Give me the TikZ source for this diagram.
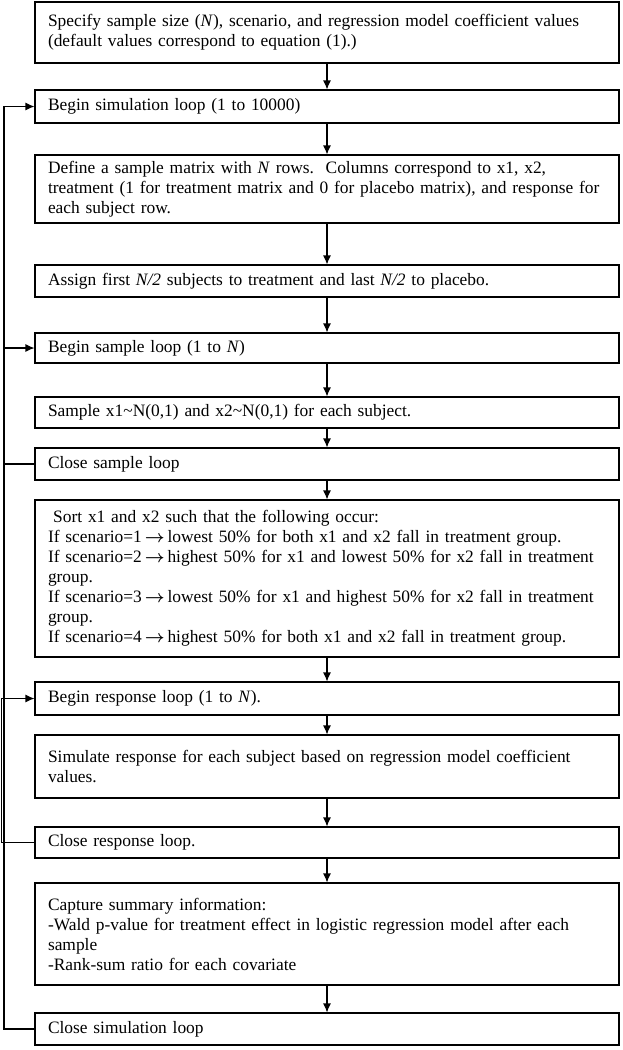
\documentclass[tikz,border=0pt]{standalone}
\usepackage{fontspec}
\setmainfont{Liberation Serif}
\usetikzlibrary{arrows.meta}
\newcommand{\thento}{\,{\boldmath$\rightarrow$}\,}
\begin{document}
\begin{tikzpicture}[x=1pt, y=-1pt, >={Latex[length=9pt,width=8pt]},
    line width=1.1pt,
    stepbox/.style={draw, rectangle, minimum width=584pt, text width=558pt,
        inner xsep=13pt, inner ysep=4pt, align=left,
        font=\fontsize{17.4}{20}\selectfont}]
    \useasboundingbox (0,0) rectangle (622,1050);
    % boxes, top to bottom
    \node[stepbox, minimum height=61pt] (spec) at (327,32.5)
        {Specify sample size (\textit{N}), scenario, and regression model coefficient values\\
         (default values correspond to equation (1).)};
    \node[stepbox, minimum height=33pt] (simbeg) at (327,106.5)
        {Begin simulation loop (1 to 10000)};
    \node[stepbox, minimum height=68pt] (define) at (327,189)
        {Define a sample matrix with \textit{N} rows.\ \ Columns correspond to x1, x2,\\
         treatment (1 for treatment matrix and 0 for placebo matrix), and response for\\
         each subject row.};
    \node[stepbox, minimum height=32pt] (assign) at (327,281)
        {Assign first \textit{N/2} subjects to treatment and last \textit{N/2} to placebo.};
    \node[stepbox, minimum height=30pt] (sampbeg) at (327,348)
        {Begin sample loop (1 to \textit{N})};
    \node[stepbox, minimum height=31pt] (sample) at (327,412.5)
        {Sample x1\textasciitilde N(0,1) and x2\textasciitilde N(0,1) for each subject.};
    \node[stepbox, minimum height=32pt] (sampend) at (327,464)
        {Close sample loop};
    \node[stepbox, minimum height=157pt] (sort) at (327,578.5)
        {\hspace*{0.3em}Sort x1 and x2 such that the following occur:\\
         If scenario=1\thento lowest 50\% for both x1 and x2 fall in treatment group.\\
         If scenario=2\thento highest 50\% for x1 and lowest 50\% for x2 fall in treatment\\
         group.\\
         If scenario=3\thento lowest 50\% for x1 and highest 50\% for x2 fall in treatment\\
         group.\\
         If scenario=4\thento highest 50\% for both x1 and x2 fall in treatment group.};
    \node[stepbox, minimum height=33pt] (respbeg) at (327,698.5)
        {Begin response loop (1 to \textit{N}).};
    \node[stepbox, minimum height=63pt] (simulate) at (327,766.5)
        {Simulate response for each subject based on regression model coefficient\\
         values.};
    \node[stepbox, minimum height=31pt] (respend) at (327,842.5)
        {Close response loop.};
    \node[stepbox, minimum height=102pt] (capture) at (327,934)
        {Capture summary information:\\
         -Wald p-value for treatment effect in logistic regression model after each\\
         sample\\
         -Rank-sum ratio for each covariate};
    \node[stepbox, minimum height=32pt] (simend) at (327,1029)
        {Close simulation loop};

    % main flow
    \foreach \a/\b in {spec/simbeg, simbeg/define, define/assign, assign/sampbeg,
        sampbeg/sample, sample/sampend, sampend/sort, sort/respbeg,
        respbeg/simulate, simulate/respend, respend/capture, capture/simend}
        \draw[->] (\a.south) -- (\b.north);

    % loops on the left
    \coordinate (outer) at (4,0);
    \coordinate (inner) at (1.5,0);
    \draw[->] (simend.west) -- (simend.west -| outer) |- (simbeg.west);
    \draw[->] (sampend.west) -- (sampend.west -| outer) |- (sampbeg.west);
    \draw[->] (respend.west) -- (respend.west -| inner) |- (respbeg.west);
\end{tikzpicture}
\end{document}
